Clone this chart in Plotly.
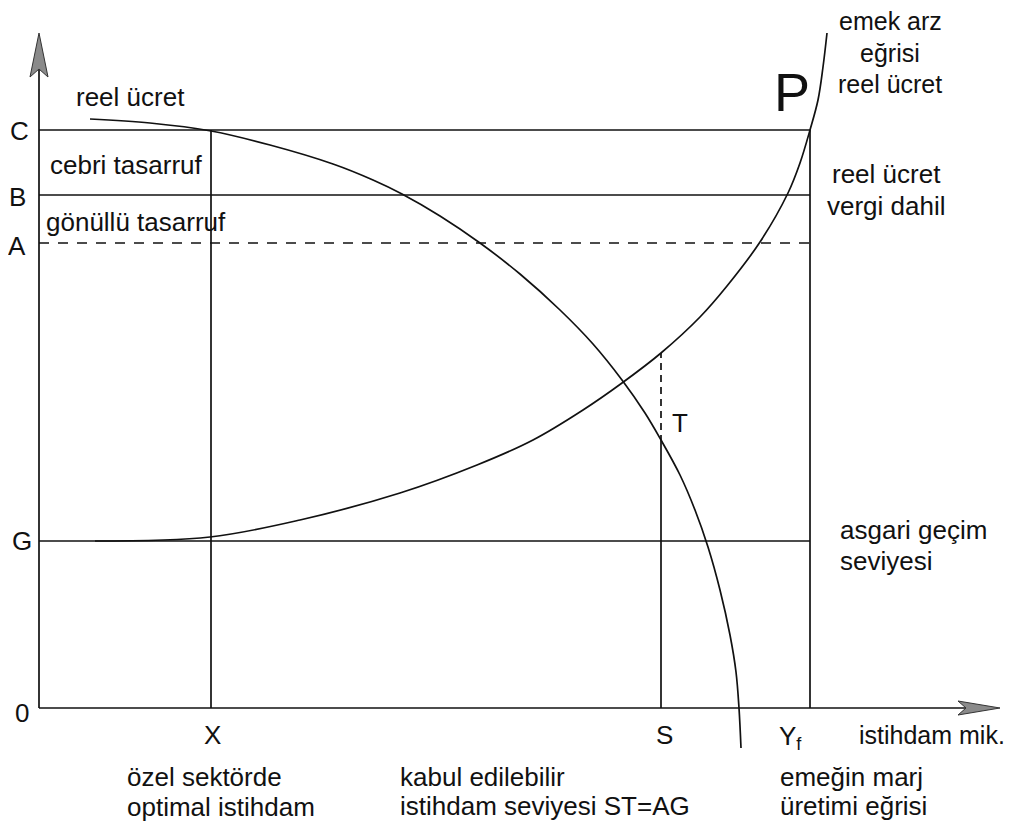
import plotly.graph_objects as go

# ---- data (chart units: origin at the axes' corner) ----
level_names = ["C", "B", "A", "G"]
level_values = [578, 513, 465, 167]          # C, B, A (dashed), G
employment_names = ["X", "S", "Yf"]
employment_values = [172, 622, 771]
S_mpl_value = 266        # T point on marginal product curve at S
S_supply_value = 355     # supply curve at S

# marginal product of labour curve (emeğin marj üretimi eğrisi)
mpl_x = [51, 111, 172, 231, 294, 334, 363, 401, 441, 481, 521, 554, 583, 606, 622, 641, 656, 669, 681, 691, 697, 700, 702]
mpl_y = [589, 585, 577, 563, 544, 528, 514, 492, 465, 434, 398, 364, 328, 295, 268, 233, 198, 161, 118, 73, 36, 0, -40]

# labour supply curve (emek arz eğrisi)
supply_x = [56, 171, 261, 361, 438, 494, 544, 583, 622, 661, 688, 721, 749, 761, 771, 779, 784, 788]
supply_y = [167, 171, 188, 215, 243, 268, 298, 325, 355, 391, 422, 466, 515, 545, 578, 608, 641, 675]

x_axis_end = 961
y_axis_end = 675

FONT = "Liberation Sans, Arial, sans-serif"
BLACK = "#111111"
LW = 1.7

fig = go.Figure()

def line(xs, ys, dash="solid", width=LW):
    fig.add_trace(go.Scatter(x=xs, y=ys, mode="lines",
                             line=dict(color=BLACK, width=width, dash=dash),
                             hoverinfo="skip", showlegend=False))

# axes
line([0, x_axis_end - 30], [0, 0])
line([0, 0], [0, y_axis_end - 30])

# horizontal level lines
Yf = employment_values[2]
for name, v in zip(level_names, level_values):
    line([0, Yf], [v, v], dash="10px,9px" if name == "A" else "solid")

# vertical lines
C = level_values[0]
line([employment_values[0]] * 2, [0, C])
line([Yf] * 2, [0, C])
S = employment_values[1]
line([S, S], [0, S_mpl_value])
line([S, S], [S_mpl_value, S_supply_value], dash="7px,5px")

# curves
fig.add_trace(go.Scatter(x=mpl_x, y=mpl_y, mode="lines", line_shape="spline",
                         line=dict(color=BLACK, width=LW, smoothing=1.0),
                         hoverinfo="skip", showlegend=False))
fig.add_trace(go.Scatter(x=supply_x, y=supply_y, mode="lines", line_shape="spline",
                         line=dict(color=BLACK, width=LW, smoothing=1.0),
                         hoverinfo="skip", showlegend=False))

# arrowheads (filled darts)
fig.add_trace(go.Scatter(x=[x_axis_end, x_axis_end - 42, x_axis_end - 34, x_axis_end - 42, x_axis_end],
                         y=[0, 7, 0, -7, 0], mode="lines", fill="toself",
                         fillcolor="#8a8a8a", line=dict(color="#333333", width=1),
                         hoverinfo="skip", showlegend=False))
fig.add_trace(go.Scatter(x=[0, -9, 0, 9, 0],
                         y=[y_axis_end, y_axis_end - 44, y_axis_end - 36, y_axis_end - 44, y_axis_end],
                         mode="lines", fill="toself",
                         fillcolor="#8a8a8a", line=dict(color="#333333", width=1),
                         hoverinfo="skip", showlegend=False))

def text(x, y, s, size=26, xanchor="center"):
    fig.add_annotation(x=x, y=y, text=s, showarrow=False, xanchor=xanchor,
                       yanchor="middle", font=dict(family=FONT, size=size, color=BLACK))

# axis letters
label_x = {"C": -20, "B": -22, "A": -22, "G": -17}
label_dy = {"C": -1, "B": -2, "A": -3, "G": 0}
for name, v in zip(level_names, level_values):
    text(label_x[name], v + label_dy[name], name)
text(-17, -5, "0")
text(173, -27, "X")
text(625, -27, "S")
text(751, -29, "Y<sub>f</sub>")
text(818, -27, "istihdam mik.", size=25, xanchor="left")

# inner labels
text(91, 611, "reel ücret")
text(9, 543, "cebri tasarruf", xanchor="left")
text(5, 486, "gönüllü tasarruf", xanchor="left")
text(641, 285, "T")
text(753, 616, "P", size=54)

# right side labels
text(851, 687, "emek arz", size=25)
text(851, 655, "eğrisi", size=25)
text(851, 624, "reel ücret", size=25)
text(847, 534, "reel ücret")
text(847, 502, "vergi dahil")
text(799, 178, "asgari geçim", xanchor="left")
text(799, 147, "seviyesi", xanchor="left")

# bottom labels
text(86, -69, "özel sektörde", xanchor="left")
text(86, -99, "optimal istihdam", xanchor="left")
text(359, -69, "kabul edilebilir", xanchor="left")
text(359, -98, "istihdam seviyesi ST=AG", xanchor="left")
text(739, -69, "emeğin marj", xanchor="left")
text(739, -98, "üretimi eğrisi", xanchor="left")

# the page body has an 8px margin, so the figure is 1008x821 and shifted
fig.update_layout(width=1008, height=821, margin=dict(l=0, r=0, t=0, b=0),
                  paper_bgcolor="white", plot_bgcolor="white", showlegend=False,
                  xaxis=dict(range=[-31, 977], visible=False, fixedrange=True),
                  yaxis=dict(range=[-121, 700], visible=False, fixedrange=True))

fig.write_html("out.html")
